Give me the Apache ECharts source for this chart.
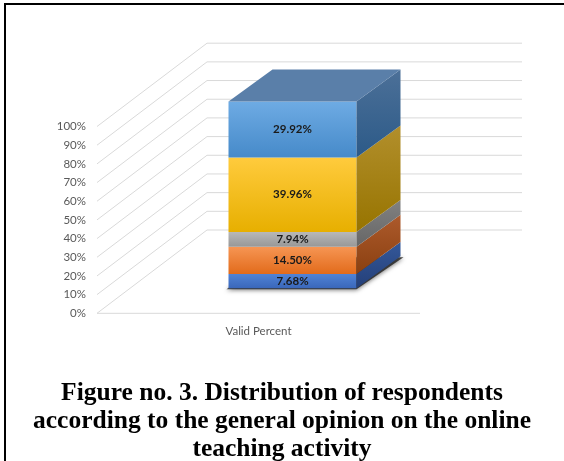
<!DOCTYPE html>
<html>
<head>
<meta charset="utf-8">
<script src="https://cdn.jsdelivr.net/npm/echarts@6/dist/echarts.min.js"></script>
<style>
  html, body { margin: 0; padding: 0; background: #fff; width: 564px; height: 461px; overflow: hidden; }
  #frame { position: absolute; left: 4px; top: 3px; width: 560px; height: 458px; border-left: 2px solid #000; border-top: 2px solid #000; box-sizing: border-box; }
  #chart { position: absolute; left: 0; top: 0; width: 564px; height: 461px; }
</style>
</head>
<body>
<div id="frame"></div>
<div id="chart"></div>
<script>
// Chart data
const categories = ['Valid Percent'];
const segmentValues = [7.68, 14.50, 7.94, 39.96, 29.92];
const segmentLabels = ['7.68%', '14.50%', '7.94%', '39.96%', '29.92%'];
const tickValues = [0, 10, 20, 30, 40, 50, 60, 70, 80, 90, 100];
const titleLines = [
  'Figure no. 3. Distribution of respondents',
  'according to the general opinion on the online',
  'teaching activity'
];

// Face colours for each stacked segment: [front top, front bottom, side top, side bottom]
const segmentColors = [
  ['#5083d6', '#3a67ba', '#34589a', '#243f78'],
  ['#f69553', '#e26b1b', '#ad5a2c', '#8a4010'],
  ['#b8b8b8', '#979797', '#818181', '#666666'],
  ['#ffcb3d', '#e7af00', '#b28f2c', '#977400'],
  ['#6eabe4', '#468ac9', '#4c7098', '#2c5a88']
];
const topFaceColor = '#5a7fa9';

// 3D projection constants (pixel offsets)
const WALL_DX = 110, WALL_DY = -83.3;   // front plane -> back wall
const WALL_RIGHT_EXTRA = 102;          // back wall extends beyond plot width
const BAR_FX = 34, BAR_FY = -25;        // front plane -> bar front face
const BAR_DX = 44, BAR_DY = -32;        // bar depth
const BAR_HALF = 64;                    // half width of the bar front face

// Build stacked ranges
const stackData = [];
let acc = 0;
segmentValues.forEach((v, i) => {
  stackData.push([0, acc, acc + v, i]);
  acc += v;
});
const wallData = tickValues.map(v => [0, v]);

function grad(c1, c2) {
  return new echarts.graphic.LinearGradient(0, 0, 0, 1, [
    { offset: 0, color: c1 }, { offset: 1, color: c2 }
  ]);
}

const chart = echarts.init(document.getElementById('chart'), null, { renderer: 'canvas' });

chart.setOption({
  animation: false,
  backgroundColor: 'transparent',
  title: {
    text: titleLines.join('\n'),
    left: 'center',
    top: 374,
    textStyle: {
      fontFamily: 'Liberation Serif',
      fontWeight: 'bold',
      fontSize: 25.5,
      lineHeight: 28,
      color: '#000',
      align: 'center'
    }
  },
  grid: { left: 97, top: 126.5, width: 323, height: 186.8, containLabel: false },
  xAxis: {
    type: 'category',
    data: categories,
    axisLine: { show: false },
    axisTick: { show: false },
    axisLabel: { color: '#595959', fontFamily: 'Lato', fontSize: 11.5, margin: 12 },
    splitLine: { show: false }
  },
  yAxis: {
    type: 'value',
    min: 0, max: 100, interval: 10,
    axisLine: { show: false },
    axisTick: { show: false },
    splitLine: { show: false },
    axisLabel: { formatter: '{value}%', color: '#595959', fontFamily: 'Lato', fontSize: 11.5, margin: 11 }
  },
  series: [
    {
      // Walls: diagonal side gridlines, back wall gridlines and floor edge
      type: 'custom',
      z: 1,
      silent: true,
      data: wallData,
      renderItem: function (params, api) {
        const cs = params.coordSys;
        const v = api.value(1);
        const y = api.coord([0, v])[1];
        const x0 = cs.x;
        const bx = x0 + WALL_DX, by = y + WALL_DY;
        const bRight = cs.x + cs.width + WALL_RIGHT_EXTRA;
        const style = { stroke: '#d9d9d9', lineWidth: 1, fill: null };
        const children = [
          { type: 'line', shape: { x1: x0, y1: y, x2: bx, y2: by }, style: style },
          { type: 'line', shape: { x1: bx, y1: by, x2: bRight, y2: by }, style: style }
        ];
        if (v === 0) {
          children.push({ type: 'line', shape: { x1: x0, y1: y, x2: cs.x + cs.width, y2: y }, style: style });
        }
        return { type: 'group', children: children };
      }
    },
    {
      // Stacked 3D bar
      type: 'custom',
      z: 3,
      silent: true,
      data: stackData,
      renderItem: function (params, api) {
        const idx = api.value(3);
        const cx = api.coord([api.value(0), 0])[0];
        const yB = api.coord([0, api.value(1)])[1] + BAR_FY;
        const yT = api.coord([0, api.value(2)])[1] + BAR_FY;
        const x0 = cx - BAR_HALF + BAR_FX;
        const x1 = cx + BAR_HALF + BAR_FX;
        const col = segmentColors[idx];
        const children = [];
        if (idx === 0) {
          // soft shadow of the bar footprint
          children.push({
            type: 'polygon',
            shape: { points: [[x0 - 2, yB + 1], [x1, yB + 1], [x1 + BAR_DX + 3, yB + BAR_DY + 1], [x0 + BAR_DX, yB + BAR_DY + 1]] },
            style: { fill: 'rgba(40,40,40,0.85)', shadowBlur: 4, shadowColor: 'rgba(0,0,0,0.6)', shadowOffsetY: 1 }
          });
        }
        // front face
        children.push({
          type: 'rect',
          shape: { x: x0, y: yT, width: x1 - x0, height: yB - yT },
          style: { fill: grad(col[0], col[1]) }
        });
        // side face
        children.push({
          type: 'polygon',
          shape: { points: [[x1, yT], [x1 + BAR_DX, yT + BAR_DY], [x1 + BAR_DX, yB + BAR_DY], [x1, yB]] },
          style: { fill: grad(col[2], col[3]) }
        });
        if (idx === segmentValues.length - 1) {
          children.push({
            type: 'polygon',
            shape: { points: [[x0, yT], [x0 + BAR_DX, yT + BAR_DY], [x1 + BAR_DX, yT + BAR_DY], [x1, yT]] },
            style: { fill: topFaceColor }
          });
        }
        children.push({
          type: 'text',
          style: {
            x: (x0 + x1) / 2, y: (yT + yB) / 2,
            text: segmentLabels[idx],
            align: 'center', verticalAlign: 'middle',
            fontFamily: 'Lato', fontWeight: 'bold', fontSize: 11.5,
            fill: '#1a1a1a'
          }
        });
        return { type: 'group', children: children };
      }
    }
  ]
});
</script>
</body>
</html>
